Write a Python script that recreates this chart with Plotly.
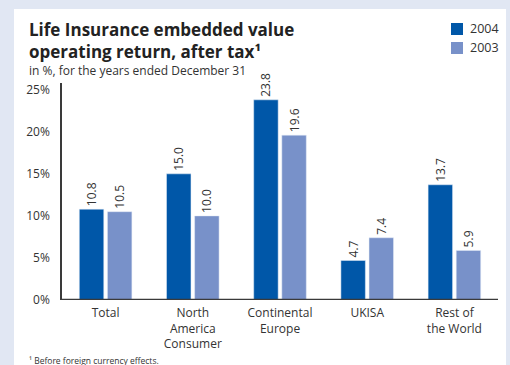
import plotly.graph_objects as go

categories = ["Total", "North<br>America<br>Consumer", "Continental<br>Europe", "UKISA", "Rest of<br>the World"]
series_names = ["2004", "2003"]
values_2004 = [10.8, 15.0, 23.8, 4.7, 13.7]
values_2003 = [10.5, 10.0, 19.6, 7.4, 5.9]
tick_vals = [0, 5, 10, 15, 20, 25]
tick_text = ["0%", "5%", "10%", "15%", "20%", "25%"]

FONT = "Open Sans"
TXT = "#333333"
COLORS = ["#0057a8", "#7891c9"]

W, H = 510, 365
L, R, T, B = 62, 12, 83, 65
PW, PH = W - L - R, H - T - B


def px_x(x):
    """Pixel column -> paper x."""
    return (x - L) / PW


def px_y(y):
    """Pixel row (from top) -> paper y."""
    return (H - B - y) / PH


fig = go.Figure()
for name, vals, col in zip(series_names, [values_2004, values_2003], COLORS):
    fig.add_trace(go.Bar(
        name=name, x=categories, y=vals, marker_color=col,
        text=[f"{v:.1f}" for v in vals], textposition="outside",
        textangle=-90, textfont=dict(family=FONT, size=12, color=TXT),
        cliponaxis=False, showlegend=False,
    ))

shapes = [
    # white card behind the chart
    dict(type="rect", xref="paper", yref="paper", layer="below",
         x0=px_x(14), x1=px_x(506), y0=px_y(H), y1=px_y(9),
         fillcolor="white", line=dict(width=0)),
    # baseline
    dict(type="line", xref="paper", yref="y", x0=px_x(61), x1=1.0, y0=0, y1=0,
         line=dict(color="#3a3a3a", width=2.5), layer="above"),
]

annotations = [
    dict(text="<b>Life Insurance embedded value<br>operating return, after tax¹</b>",
         xref="paper", yref="paper", x=px_x(27), y=px_y(16),
         xanchor="left", yanchor="top", align="left", showarrow=False,
         font=dict(family=FONT, size=17, color="#222222")),
    dict(text="in %, for the years ended December 31",
         xref="paper", yref="paper", x=px_x(27), y=px_y(60),
         xanchor="left", yanchor="top", align="left", showarrow=False,
         font=dict(family=FONT, size=12, color=TXT)),
    dict(text="¹ Before foreign currency effects.",
         xref="paper", yref="paper", x=px_x(27), y=px_y(353),
         xanchor="left", yanchor="top", align="left", showarrow=False,
         font=dict(family=FONT, size=8.5, color=TXT)),
]

# legend: coloured squares with year labels, top right
for i, (name, col) in enumerate(zip(series_names, COLORS)):
    top = 23 + 19 * i
    shapes.append(dict(type="rect", xref="paper", yref="paper",
                       x0=px_x(451), x1=px_x(463), y0=px_y(top + 12), y1=px_y(top),
                       fillcolor=col, line=dict(width=0)))
    annotations.append(dict(text=name, xref="paper", yref="paper",
                            x=px_x(468), y=px_y(top + 6),
                            xanchor="left", yanchor="middle", showarrow=False,
                            font=dict(family=FONT, size=12.5, color=TXT)))

fig.update_layout(
    width=W, height=H,
    margin=dict(l=L, r=R, t=T, b=B),
    paper_bgcolor="#e1e7f3",
    plot_bgcolor="white",
    barmode="group",
    bargap=0.355,
    bargroupgap=0.13,
    font=dict(family=FONT, size=12, color=TXT),
    showlegend=False,
    xaxis=dict(
        range=[-0.5, 4.5], showline=False, ticks="", showgrid=False,
        tickfont=dict(family=FONT, size=12, color=TXT), zeroline=False,
        ticklabelstandoff=4,
    ),
    yaxis=dict(
        range=[0, 25.8], tickvals=tick_vals, ticktext=tick_text,
        showgrid=False, zeroline=False, showline=True, linecolor="#3a3a3a",
        linewidth=1.5, ticks="", ticklabelstandoff=8,
        tickfont=dict(family=FONT, size=12, color=TXT),
    ),
    shapes=shapes,
    annotations=annotations,
)

fig.write_html("out.html")
